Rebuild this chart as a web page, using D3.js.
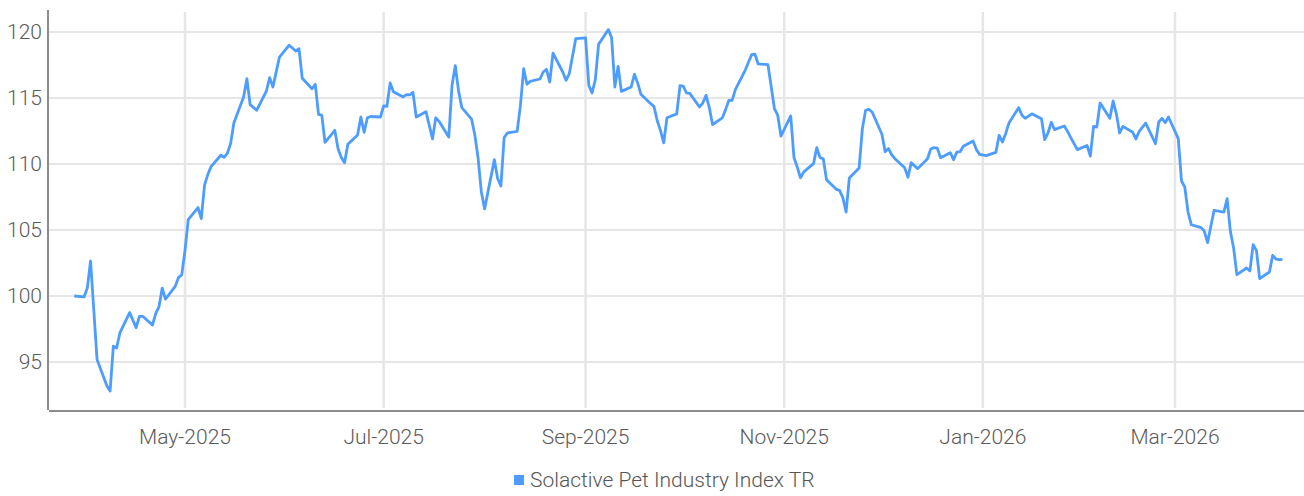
<!DOCTYPE html>
<html>
<head>
<meta charset="utf-8">
<script src="https://cdn.jsdelivr.net/npm/d3@7"></script>
<style>
  html, body { margin: 0; padding: 0; background: #fff; }
  svg { display: block; }
  text { font-family: Roboto, "Liberation Sans", sans-serif; }
</style>
</head>
<body>
<svg id="chart" width="1304" height="496"></svg>
<script>
const seriesName = "Solactive Pet Industry Index TR";

const dates = [
  "2025-03-28","2025-03-31","2025-04-01","2025-04-02","2025-04-04","2025-04-07","2025-04-08","2025-04-09","2025-04-10","2025-04-11",
  "2025-04-14","2025-04-16","2025-04-17","2025-04-18","2025-04-21","2025-04-22","2025-04-23","2025-04-24","2025-04-25","2025-04-28",
  "2025-04-29","2025-04-30","2025-05-01","2025-05-02","2025-05-05","2025-05-06","2025-05-07","2025-05-08","2025-05-09","2025-05-12",
  "2025-05-13","2025-05-14","2025-05-15","2025-05-16","2025-05-19","2025-05-20","2025-05-21","2025-05-23","2025-05-26","2025-05-27",
  "2025-05-28","2025-05-30","2025-06-02","2025-06-04","2025-06-05","2025-06-06","2025-06-09","2025-06-10","2025-06-11","2025-06-12",
  "2025-06-13","2025-06-16","2025-06-17","2025-06-18","2025-06-19","2025-06-20","2025-06-23","2025-06-24","2025-06-25","2025-06-26",
  "2025-06-27","2025-06-30","2025-07-01","2025-07-02","2025-07-03","2025-07-04","2025-07-07","2025-07-08","2025-07-09","2025-07-10",
  "2025-07-11","2025-07-14","2025-07-16","2025-07-17","2025-07-18","2025-07-21","2025-07-22","2025-07-23","2025-07-24","2025-07-25",
  "2025-07-28","2025-07-29","2025-07-30","2025-07-31","2025-08-01","2025-08-04","2025-08-05","2025-08-06","2025-08-07","2025-08-08",
  "2025-08-11","2025-08-12","2025-08-13","2025-08-14","2025-08-15","2025-08-18","2025-08-19","2025-08-20","2025-08-21","2025-08-22",
  "2025-08-25","2025-08-26","2025-08-27","2025-08-29","2025-09-01","2025-09-02","2025-09-03","2025-09-04","2025-09-05","2025-09-08",
  "2025-09-09","2025-09-10","2025-09-11","2025-09-12","2025-09-15","2025-09-16","2025-09-17","2025-09-18","2025-09-21","2025-09-22",
  "2025-09-23","2025-09-24","2025-09-25","2025-09-26","2025-09-29","2025-09-30","2025-10-01","2025-10-02","2025-10-03","2025-10-06",
  "2025-10-07","2025-10-08","2025-10-09","2025-10-10","2025-10-13","2025-10-14","2025-10-15","2025-10-16","2025-10-17","2025-10-20",
  "2025-10-22","2025-10-23","2025-10-24","2025-10-27","2025-10-29","2025-10-30","2025-10-31","2025-11-03","2025-11-04","2025-11-05",
  "2025-11-06","2025-11-07","2025-11-10","2025-11-11","2025-11-12","2025-11-13","2025-11-14","2025-11-17","2025-11-18","2025-11-19",
  "2025-11-20","2025-11-21","2025-11-24","2025-11-25","2025-11-26","2025-11-27","2025-11-28","2025-12-01","2025-12-02","2025-12-03",
  "2025-12-04","2025-12-05","2025-12-08","2025-12-09","2025-12-10","2025-12-12","2025-12-15","2025-12-16","2025-12-17","2025-12-18",
  "2025-12-19","2025-12-22","2025-12-23","2025-12-24","2025-12-25","2025-12-26","2025-12-29","2025-12-30","2025-12-31","2026-01-02",
  "2026-01-05","2026-01-06","2026-01-07","2026-01-08","2026-01-09","2026-01-12","2026-01-13","2026-01-14","2026-01-16","2026-01-19",
  "2026-01-20","2026-01-21","2026-01-22","2026-01-23","2026-01-26","2026-01-27","2026-01-28","2026-01-30","2026-02-02","2026-02-03",
  "2026-02-04","2026-02-05","2026-02-06","2026-02-09","2026-02-10","2026-02-11","2026-02-12","2026-02-13","2026-02-16","2026-02-17",
  "2026-02-18","2026-02-20","2026-02-23","2026-02-24","2026-02-25","2026-02-26","2026-02-27","2026-03-02","2026-03-03","2026-03-04",
  "2026-03-05","2026-03-06","2026-03-09","2026-03-10","2026-03-11","2026-03-13","2026-03-16","2026-03-17","2026-03-18","2026-03-19",
  "2026-03-20","2026-03-23","2026-03-24","2026-03-25","2026-03-26","2026-03-27","2026-03-30","2026-03-31","2026-04-01","2026-04-02",
  "2026-04-03"
];

const values = [
  100.0, 99.93, 100.6, 102.65, 95.18, 93.2, 92.8, 96.2, 96.06, 97.2,
  98.74, 97.6, 98.46, 98.46, 97.8, 98.66, 99.17, 100.6, 99.77, 100.73,
  101.4, 101.6, 103.46, 105.78, 106.7, 105.86, 108.4, 109.2, 109.8, 110.66,
  110.5, 110.8, 111.54, 113.1, 115.08, 116.46, 114.5, 114.07, 115.53, 116.54,
  115.83, 118.1, 119.0, 118.56, 118.74, 116.5, 115.7, 116.04, 113.76, 113.7,
  111.64, 112.55, 111.16, 110.5, 110.1, 111.5, 112.2, 113.56, 112.4, 113.5,
  113.6, 113.56, 114.4, 114.37, 116.14, 115.48, 115.08, 115.25, 115.23, 115.43,
  113.56, 113.96, 111.9, 113.5, 113.23, 112.05, 115.96, 117.45, 115.53, 114.27,
  113.4, 112.2, 110.45, 107.88, 106.6, 110.33, 108.9, 108.33, 112.0, 112.35,
  112.47, 114.44, 117.22, 116.04, 116.26, 116.44, 116.97, 117.17, 116.2, 118.4,
  116.97, 116.34, 116.84, 119.5, 119.55, 115.96, 115.38, 116.4, 119.07, 120.18,
  119.57, 115.83, 117.4, 115.5, 115.83, 116.8, 116.14, 115.28, 114.57, 114.37,
  113.3, 112.55, 111.6, 113.5, 113.8, 115.93, 115.9, 115.38, 115.35, 114.32,
  114.62, 115.2, 114.27, 112.98, 113.5, 114.12, 114.82, 114.82, 115.63, 117.1,
  118.28, 118.33, 117.58, 117.53, 114.2, 113.7, 112.12, 113.64, 110.48, 109.77,
  108.96, 109.4, 110.03, 111.24, 110.48, 110.4, 108.8, 108.08, 108.0, 107.45,
  106.36, 108.94, 109.7, 112.68, 114.07, 114.14, 113.94, 112.25, 110.93, 111.18,
  110.7, 110.4, 109.72, 109.0, 110.1, 109.65, 110.4, 111.14, 111.24, 111.2,
  110.48, 110.86, 110.33, 110.9, 110.93, 111.34, 111.74, 111.09, 110.73, 110.63,
  110.88, 112.17, 111.67, 112.3, 113.1, 114.27, 113.69, 113.46, 113.8, 113.43,
  111.84, 112.35, 113.16, 112.6, 112.88, 112.47, 112.0, 111.09, 111.4, 110.6,
  112.85, 112.8, 114.62, 113.46, 114.77, 113.8, 112.35, 112.85, 112.4, 111.9,
  112.47, 113.1, 111.54, 113.18, 113.46, 113.13, 113.56, 111.92, 108.71, 108.26,
  106.36, 105.4, 105.18, 104.92, 104.04, 106.49, 106.36, 107.37, 104.9, 103.64,
  101.62, 102.12, 101.9, 103.89, 103.46, 101.31, 101.82, 103.08, 102.8, 102.75,
  102.78
];

const xTickDates = ["2025-05-01","2025-07-01","2025-09-01","2025-11-01","2026-01-01","2026-03-01"];
const xTickLabels = ["May-2025","Jul-2025","Sep-2025","Nov-2025","Jan-2026","Mar-2026"];
const yTicks = [95, 100, 105, 110, 115, 120];

const parse = d3.timeParse("%Y-%m-%d");
const data = dates.map((d, i) => ({ date: parse(d), value: values[i] }));

const svg = d3.select("#chart");
const plotLeft = 48, plotRight = 1304, plotTop = 12, plotBottom = 410;

const x = d3.scaleTime()
  .domain([parse("2025-05-01"), parse("2026-03-01")])
  .range([185, 1175]);
const y = d3.scaleLinear().domain([95, 120]).range([362, 32]);

// horizontal gridlines
svg.append("g").selectAll("line").data(yTicks).join("line")
  .attr("x1", plotLeft).attr("x2", plotRight)
  .attr("y1", d => y(d)).attr("y2", d => y(d))
  .attr("stroke", "#e6e6e6").attr("stroke-width", 2);

// vertical gridlines
svg.append("g").selectAll("line").data(xTickDates).join("line")
  .attr("x1", d => x(parse(d))).attr("x2", d => x(parse(d)))
  .attr("y1", plotTop).attr("y2", plotBottom - 2)
  .attr("stroke", "#e6e6e6").attr("stroke-width", 2.5);

// axes lines
svg.append("line").attr("x1", plotLeft).attr("x2", plotLeft).attr("y1", plotTop - 2).attr("y2", plotBottom)
  .attr("stroke", "#8c8c8c").attr("stroke-width", 2);
svg.append("line").attr("x1", plotLeft + 1).attr("x2", plotRight).attr("y1", plotBottom + 1).attr("y2", plotBottom + 1)
  .attr("stroke", "#8c8c8c").attr("stroke-width", 2);

// y labels
svg.append("g").selectAll("text").data(yTicks).join("text")
  .attr("x", 42).attr("y", d => y(d))
  .attr("dy", "0.35em")
  .attr("text-anchor", "end")
  .attr("font-size", 21).attr("font-weight", 300)
  .attr("fill", "#5a5a5a")
  .text(d => d);

// x labels
svg.append("g").selectAll("text").data(xTickDates).join("text")
  .attr("x", d => x(parse(d))).attr("y", 444)
  .attr("text-anchor", "middle")
  .attr("font-size", 21).attr("font-weight", 300)
  .attr("fill", "#5a5a5a")
  .text((d, i) => xTickLabels[i]);

// line
const line = d3.line().x(d => x(d.date)).y(d => y(d.value));
svg.append("path").datum(data)
  .attr("fill", "none")
  .attr("stroke", "#4d9cff")
  .attr("stroke-width", 2.8)
  .attr("stroke-linejoin", "round")
  .attr("d", line);

// legend
const lg = svg.append("g").attr("transform", "translate(514,475)");
lg.append("rect").attr("width", 10).attr("height", 10).attr("fill", "#4d9cff");
lg.append("text").attr("x", 16).attr("y", 5).attr("dy", "0.35em")
  .attr("font-size", 21).attr("font-weight", 300).attr("fill", "#555")
  .text(seriesName);
</script>
</body>
</html>
